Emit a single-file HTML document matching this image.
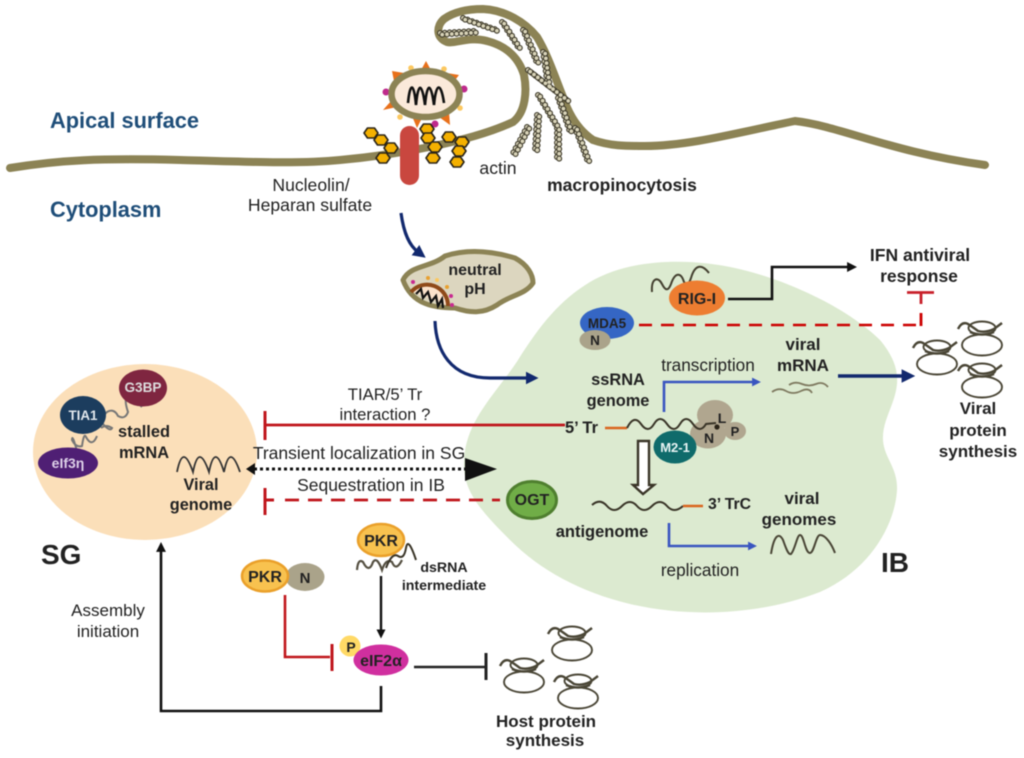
<!DOCTYPE html>
<html><head><meta charset="utf-8"><style>
html,body{margin:0;padding:0;background:#fff}
svg{display:block;filter:blur(.45px)}
text{font-family:"Liberation Sans","DejaVu Sans",sans-serif;fill:#222}
.b{font-weight:bold}
.m{text-anchor:middle}
</style></head><body>
<svg width="1024" height="758" viewBox="0 0 1024 758" xmlns="http://www.w3.org/2000/svg">
<defs>
<g id="rib" fill="none" stroke="#4a4636">
<ellipse cx="0" cy="10" rx="20" ry="10.5" stroke-width="1.9"/>
<ellipse cx="0" cy="-7" rx="13.5" ry="6.5" stroke-width="1.9"/>
<path d="M-24-6Q-20-14-14-11Q-8-7-4-4Q4-2 12-6L20-12" stroke-width="2.4"/>
<path d="M-12-3Q0 2 12-3" stroke-width="2.4"/>
</g>
<polygon id="hex" points="-7,0 -3.5,-5 3.5,-5 7,0 3.5,5 -3.5,5" fill="#f4b000" stroke="#2a2418" stroke-width="1.6" stroke-linejoin="round"/>
<g id="act" fill="none" stroke-linecap="round" stroke-linejoin="round">
<path stroke="#3e3a2a" stroke-width="6" stroke-dasharray="0 4.8" d="M440 33L474 31M463 18L497 30M502 22L520 50M523 30L537 63M543 52L548 87M528 70L567 100M558 98L570 132M575 128L588 162M538 95L557 127L557 158M537 115L535 150M527 127L512 155"/>
<path stroke="#d8d3b8" stroke-width="3.8" stroke-dasharray="0 4.8" d="M440 33L474 31M463 18L497 30M502 22L520 50M523 30L537 63M543 52L548 87M528 70L567 100M558 98L570 132M575 128L588 162M538 95L557 127L557 158M537 115L535 150M527 127L512 155"/>
</g>
<marker id="nv" markerWidth="4" markerHeight="4" refX="1" refY="2" orient="auto" markerUnits="strokeWidth"><path d="M0 0L4 2L0 4Z" fill="#12296e"/></marker>
<marker id="bk" markerWidth="3.8" markerHeight="3.8" refX="1.5" refY="1.9" orient="auto" markerUnits="strokeWidth"><path d="M0 0L3.8 1.9L0 3.8Z" fill="#111"/></marker>
<marker id="bl" markerWidth="3.4" markerHeight="3.4" refX="1.5" refY="1.7" orient="auto" markerUnits="strokeWidth"><path d="M0 0L3.4 1.7L0 3.4Z" fill="#3a55c0"/></marker>
</defs>

<!-- compartments -->
<path d="M518 360C540 325 560 300 590 282C630 258 690 258 735 268C790 280 850 310 880 340C895 358 898 372 897 384C895 405 882 420 883 440C884 458 898 468 897 490C895 525 870 570 820 592C760 615 690 618 630 604C580 592 540 570 510 540C480 510 462 490 464 460C466 420 495 395 518 360Z" fill="#dcead0"/>
<ellipse cx="145" cy="452" rx="112" ry="88" fill="#fbdfb9"/>

<!-- membrane -->
<path d="M10 168C60 160 100 158 180 160C250 162 300 164 340 160C395 155 470 142 513 122C526 112 527 90 524 75C518 55 503 45 487 41C470 36 455 44 447 42C436 38 436 26 444 19C455 11 470 9 483 9C505 10 525 22 537 37C548 55 556 80 563 97C569 115 578 130 593 140C610 146 625 146 645 146C690 146 740 132 795 121C840 126 890 152 985 165" fill="none" stroke="#8c8355" stroke-width="8" stroke-linecap="round"/>

<!-- actin -->
<use href="#act"/>
<use href="#act" x="2.2" y="1.6"/>

<!-- virus -->
<g fill="#e8701a">
<polygon points="420,72 426,61 432,72"/>
<polygon points="394,81 392,71 404,73"/>
<polygon points="447,73 459,75 452,84"/>
<polygon points="383,110 392,100 397,107"/>
<polygon points="412,116 422,118 417,128"/>
<polygon points="439,117 449,112 450,125"/>
</g>
<circle cx="411" cy="68" r="2.8" fill="#fcc860"/><circle cx="444" cy="69" r="2.8" fill="#fcc860"/><circle cx="460" cy="108" r="2.8" fill="#fcc860"/><circle cx="400" cy="117" r="2.8" fill="#fcc860"/>
<circle cx="386" cy="92" r="3.5" fill="#bf2a8c"/><circle cx="464" cy="89" r="3.5" fill="#bf2a8c"/><circle cx="435" cy="124" r="3.5" fill="#bf2a8c"/>
<ellipse cx="425.5" cy="94" rx="34" ry="23" fill="#fbe9da" stroke="#8c8355" stroke-width="6.5"/>
<path d="M408 103C410 82 414 82 416 105C418 82 422 82 425 105C427 82 431 82 434 105C436 82 441 82 444 103" fill="none" stroke="#111" stroke-width="2.6"/>

<!-- receptor -->
<rect x="400" y="126" width="19" height="59" rx="9.5" fill="#c9473f"/>

<!-- hexagons -->
<use href="#hex" x="371" y="133"/><use href="#hex" x="381" y="140"/><use href="#hex" x="391" y="148"/><use href="#hex" x="383" y="158"/>
<use href="#hex" x="427" y="129"/><use href="#hex" x="428" y="138"/><use href="#hex" x="435" y="147"/><use href="#hex" x="433" y="158"/>
<use href="#hex" x="449" y="137"/><use href="#hex" x="462" y="142"/><use href="#hex" x="459" y="151"/><use href="#hex" x="457" y="162"/>

<!-- endosome -->
<path d="M403 280C410 265 430 268 445 256C470 248 495 252 515 258C528 265 533 275 533 283C525 295 510 295 497 305C483 314 470 313 455 308C435 308 412 305 403 280Z" fill="#dcd6bf" stroke="#8c8355" stroke-width="5" stroke-linejoin="round"/>
<path d="M411 291A21 21 0 0 1 448 306Z" fill="#fbe2cc"/>
<path d="M411 292A21 21 0 0 1 448 306" fill="none" stroke="#8f4a1a" stroke-width="4"/>
<circle cx="413" cy="282" r="2" fill="#c82a90"/><circle cx="451" cy="296" r="2" fill="#c82a90"/><circle cx="452" cy="305" r="2" fill="#c82a90"/><circle cx="428" cy="278" r="2" fill="#e8a030"/><circle cx="437" cy="280" r="2" fill="#fcc860"/><circle cx="447" cy="287" r="2" fill="#e8a030"/>
<path d="M416 294L421 289L423 298L428 292L431 302L436 296L438 306L442 299L443 308" fill="none" stroke="#111" stroke-width="2.2"/>
<text x="475" y="275" class="b m" font-size="16">neutral</text>
<text x="475" y="294" class="b m" font-size="16">pH</text>

<!-- navy arrows -->
<path d="M401 213C404 235 410 246 418 252" fill="none" stroke="#12296e" stroke-width="3.2" marker-end="url(#nv)"/>
<path d="M435 321C436 350 450 378 490 378L529 378" fill="none" stroke="#12296e" stroke-width="3.2" marker-end="url(#nv)"/>
<path d="M838 376L905 376" fill="none" stroke="#12296e" stroke-width="3.4" marker-end="url(#nv)"/>

<!-- RIG-I -->
<path d="M652 292C651 278 658 276 662 284C665 290 668 292 671 284C675 272 681 272 684 282C687 286 689 284 691 278C695 264 702 264 709 273" fill="none" stroke="#444030" stroke-width="2"/>
<ellipse cx="697" cy="298" rx="28" ry="17.5" fill="#ed7d31"/>
<text x="697" y="304" class="b m" font-size="16">RIG-I</text>
<path d="M728 299L772 299L772 267L851 267" fill="none" stroke="#111" stroke-width="2.6" marker-end="url(#bk)"/>
<text x="920" y="261" class="b m" font-size="17.5">IFN antiviral</text>
<text x="919" y="282" class="b m" font-size="17.5">response</text>

<path d="M639 325H920" fill="none" stroke="#c00" stroke-width="2.6" stroke-dasharray="13 9"/>
<path d="M921 313V326" fill="none" stroke="#c00" stroke-width="2.8"/>
<path d="M921 293V304M907 292.5H934" fill="none" stroke="#c8202a" stroke-width="2.8"/>

<ellipse cx="607" cy="323" rx="27" ry="16" fill="#3566c4"/>
<text x="607" y="328" class="b m" font-size="13.5">MDA5</text>
<ellipse cx="595" cy="340" rx="15.5" ry="10" fill="#aaa38a"/>
<text x="595" y="345" class="b m" font-size="13.5">N</text>

<!-- transcription -->
<path d="M664 412L664 382L756 382" fill="none" stroke="#3a55c0" stroke-width="2.6" marker-end="url(#bl)"/>
<text x="708" y="371" class="m" font-size="17.2">transcription</text>
<text x="803" y="371" class="m b" font-size="17">mRNA</text>
<text x="803" y="350" class="m b" font-size="17">viral</text>
<path d="M772 392Q779 387 786 391T801 391T812 393M789 385Q795 381 802 384T816 384T828 387" fill="none" stroke="#7f7a60" stroke-width="1.8"/>
<text x="618" y="385" class="m b" font-size="16.4">ssRNA</text>
<text x="618" y="406" class="m b" font-size="16.4">genome</text>
<text x="565" y="433" class="b" font-size="16.5">5’ Tr</text>
<path d="M605 428H627" stroke="#d9651e" stroke-width="2.5"/>

<!-- RNP -->
<ellipse cx="715" cy="415" rx="18" ry="15" fill="#b0a68f"/>
<ellipse cx="708" cy="434" rx="18" ry="14.5" fill="#b0a68f"/>
<ellipse cx="735" cy="431" rx="11" ry="9" fill="#b0a68f"/>
<ellipse cx="675" cy="447" rx="21.5" ry="16.5" fill="#0f6b6b"/>
<text x="675" y="452" class="b m" font-size="13" style="fill:#e8f4f4">M2-1</text>
<path d="M627 428Q634 414 641 424T654 424T667 424T680 424T693 424T706 424L716 423" fill="none" stroke="#3a3528" stroke-width="2"/>
<circle cx="717" cy="427" r="2.6" fill="#2a2418"/>
<text x="722" y="423" class="b m" font-size="14">L</text>
<text x="709" y="443" class="b m" font-size="14">N</text>
<text x="735" y="436" class="b m" font-size="13">P</text>

<!-- open arrow -->
<path d="M638 441H649V485H654L643 494L633 485H638Z" fill="#fff" stroke="#3a3528" stroke-width="2.4"/>

<!-- antigenome -->
<path d="M592 505Q600 498 607 506T622 506T637 506T652 506T667 506T683 506" fill="none" stroke="#3a3528" stroke-width="2"/>
<path d="M683 506H703" stroke="#d9651e" stroke-width="2.5"/>
<text x="708" y="509" class="b" font-size="15.8">3’ TrC</text>
<text x="602" y="537" class="m b" font-size="16.5">antigenome</text>
<path d="M669 523V546L752 546" fill="none" stroke="#3a55c0" stroke-width="2.6" marker-end="url(#bl)"/>
<text x="700" y="576" class="m" font-size="17.2">replication</text>
<text x="802" y="504" class="m b" font-size="17">viral</text>
<text x="799" y="525" class="m b" font-size="17">genomes</text>
<path d="M771 554C774 535 779 532 783 540C786 548 788 555 791 554C795 550 797 535 800 535C804 535 805 553 810 553C814 553 816 535 820 535C826 535 832 545 835 553" fill="none" stroke="#4a4636" stroke-width="2"/>
<text x="881" y="572" class="b" font-size="28">IB</text>

<!-- ribosomes -->
<use href="#rib" x="937" y="354"/><use href="#rib" x="982" y="335"/><use href="#rib" x="982" y="377"/>
<text x="978" y="414" class="m b" font-size="17">Viral</text>
<text x="978" y="436" class="m b" font-size="17">protein</text>
<text x="978" y="457" class="m b" font-size="17">synthesis</text>

<use href="#rib" x="524" y="672"/><use href="#rib" x="572" y="640"/><use href="#rib" x="578" y="688"/>
<text x="546" y="727" class="m b" font-size="17">Host protein</text>
<text x="545" y="746" class="m b" font-size="17">synthesis</text>

<!-- SG -->
<path d="M142 407Q133 398 127 397Q124 400 128 412Q125 420 118 416Q114 408 107 412Q100 418 103 424Q110 432 112 428Q106 424 101 428" fill="none" stroke="#777" stroke-width="2"/>
<path d="M97 436Q92 448 86 437Q84 432 82 446Q76 448 72 440Q72 432 78 455" fill="none" stroke="#777" stroke-width="2"/>
<ellipse cx="143" cy="388" rx="24" ry="18.5" fill="#7f2640"/>
<text x="143" y="392" class="m b" font-size="13.6" style="fill:#ddd">G3BP</text>
<ellipse cx="83" cy="415" rx="23" ry="19" fill="#1c3d5e"/>
<text x="83" y="420" class="m b" font-size="13.4" style="fill:#e2e8ee">TIA1</text>
<ellipse cx="68" cy="463" rx="30" ry="15.5" fill="#4f1f74"/>
<text x="68" y="468" class="m b" font-size="14" style="fill:#ddd0e8">eIf3η</text>
<text x="144" y="437" class="m b" font-size="16.4">stalled</text>
<text x="144" y="458" class="m b" font-size="16.4">mRNA</text>
<path d="M177 472C181 452 186 452 193 472C197 452 202 452 209 472C213 452 218 452 224 472C228 452 233 452 240 472" fill="none" stroke="#333" stroke-width="1.8"/>
<text x="201" y="490" class="m b" font-size="16.3">Viral</text>
<text x="201" y="510" class="m b" font-size="16.3">genome</text>
<text x="41" y="564" class="b" font-size="28">SG</text>

<!-- connectors mid -->
<text x="385" y="400" class="m" font-size="16.7">TIAR/5’ Tr</text>
<text x="385" y="420" class="m" font-size="16.7">interaction ?</text>
<path d="M565 425H265" stroke="#c0161c" stroke-width="2.8"/>
<path d="M265 411V440" stroke="#c0161c" stroke-width="3"/>
<text x="359" y="459" class="m" font-size="17.5">Transient localization in SG</text>
<path d="M254 469H466" stroke="#111" stroke-width="3" stroke-dasharray="3 3"/>
<path d="M246 469L255 463V475Z" fill="#111"/>
<path d="M465 458L497 469L465 481Z" fill="#111"/>
<text x="371" y="491" class="m" font-size="17.5">Sequestration in IB</text>
<path d="M265 500H274" stroke="#c0161c" stroke-width="3"/>
<path d="M265 488V515" stroke="#c0161c" stroke-width="3"/>
<path d="M285 500H500" stroke="#c0161c" stroke-width="2.8" stroke-dasharray="14 9"/>
<ellipse cx="532" cy="500" rx="24.5" ry="18.5" fill="#70ad47" stroke="#4f7f2f" stroke-width="3"/>
<text x="532" y="505" class="m b" font-size="16">OGT</text>

<!-- PKR -->
<ellipse cx="305" cy="577" rx="19.5" ry="14" fill="#aaa38a"/>
<text x="305" y="583" class="m b" font-size="15">N</text>
<ellipse cx="265" cy="576" rx="23" ry="15.5" fill="#f8c24f" stroke="#eaa02a" stroke-width="2.5"/>
<text x="265" y="582" class="m b" font-size="16">PKR</text>
<path d="M357 570Q358 558 363 562Q369 574 373 562Q377 556 382 570Q386 558 392 562Q396 572 402 560" fill="none" stroke="#555042" stroke-width="2.2"/>
<path d="M386 568Q392 552 398 556T406 548T416 560" fill="none" stroke="#3a3528" stroke-width="2"/>
<ellipse cx="381" cy="540" rx="23" ry="16" fill="#f8c24f" stroke="#eaa02a" stroke-width="2.5"/>
<text x="381" y="546" class="m b" font-size="16">PKR</text>
<text x="444" y="572" class="m b" font-size="14.2">dsRNA</text>
<text x="444" y="590" class="m b" font-size="14.2">intermediate</text>
<path d="M381 576L381 633" fill="none" stroke="#111" stroke-width="2.4" marker-end="url(#bk)"/>
<path d="M285 595V657H330" fill="none" stroke="#c0161c" stroke-width="2.6"/>
<path d="M332 644V671" stroke="#c0161c" stroke-width="3"/>
<circle cx="350" cy="646" r="10.5" fill="#ffd966"/>
<text x="351" y="652" class="m b" font-size="14">P</text>
<ellipse cx="381" cy="660" rx="27.5" ry="15.5" fill="#d02f9f"/>
<text x="381" y="666" class="m b" font-size="16">eIF2α</text>
<path d="M414 667H485" stroke="#222" stroke-width="2.6"/>
<path d="M486 653V680" stroke="#222" stroke-width="3"/>
<path d="M381 686V711H161V548" fill="none" stroke="#111" stroke-width="2.6" marker-end="url(#bk)"/>
<text x="108" y="616" class="m" font-size="17">Assembly</text>
<text x="108" y="637" class="m" font-size="17">initiation</text>

<!-- top labels -->
<text x="50" y="128" class="b" font-size="21.8" style="fill:#1f4e79">Apical surface</text>
<text x="50" y="217" class="b" font-size="21.8" style="fill:#1f4e79">Cytoplasm</text>
<text x="311" y="191" class="m" font-size="17.6">Nucleolin/</text>
<text x="310" y="211" class="m" font-size="17.6">Heparan sulfate</text>
<text x="498" y="174" class="m" font-size="17.6">actin</text>
<text x="622" y="191" class="m b" font-size="17.5">macropinocytosis</text>
</svg>
</body></html>
